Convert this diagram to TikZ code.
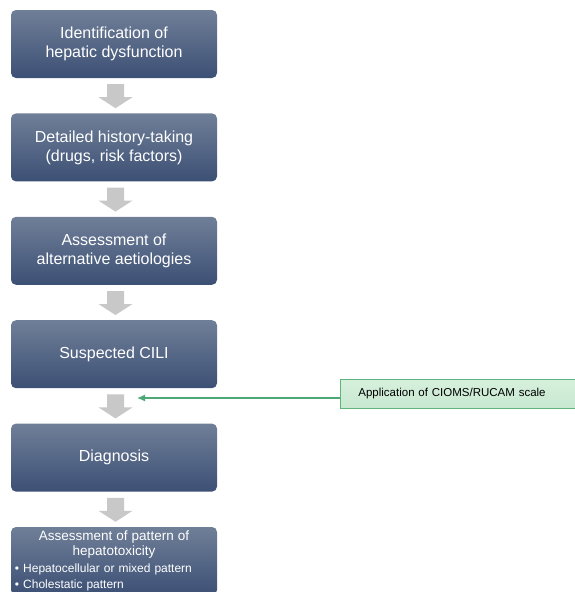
\documentclass[tikz,border=0pt]{standalone}
\usepackage{fontspec}
\setmainfont{Liberation Sans}
\usetikzlibrary{positioning,calc,arrows.meta}

\definecolor{boxtop}{RGB}{112,127,152}
\definecolor{boxbot}{RGB}{60,80,117}
\definecolor{arrowgray}{RGB}{200,200,200}
\definecolor{notefill}{RGB}{200,232,208}
\definecolor{notetop}{RGB}{214,240,220}
\definecolor{noteedge}{RGB}{95,180,125}
\definecolor{noteline}{RGB}{78,168,118}

\tikzset{
  stepbox/.style={rounded corners=5pt, top color=boxtop, bottom color=boxbot,
    draw=none, text=white, align=center, minimum width=206pt, minimum height=68pt,
    inner sep=2pt, font=\fontsize{16}{19}\selectfont},
  grayarrow/.style={fill=arrowgray},
  notebox/.style={top color=notetop, bottom color=notefill, draw=noteedge, line width=0.8pt,
    text=black, align=left, text width=204pt, inner xsep=18pt, minimum height=29pt,
    font=\fontsize{11.5}{13}\selectfont},
  noteline/.style={draw=noteline, line width=1.3pt, -{Latex[length=8pt,width=7pt]}}
}

\begin{document}
\begin{tikzpicture}[x=1pt, y=1pt]
  \useasboundingbox (0,0) rectangle (574,-592);

  % Stappen
  \node[stepbox] (ident) at (114,-44) {Identification of\\hepatic dysfunction};
  \node[stepbox, below=35pt of ident] (history) {Detailed history-taking\\(drugs, risk factors)};
  \node[stepbox, below=35pt of history] (alter) {Assessment of\\alternative aetiologies};
  \node[stepbox, below=35pt of alter] (suspect) {Suspected CILI};
  \node[stepbox, below=35pt of suspect] (diag) {Diagnosis};
  \node[stepbox, below=35pt of diag, align=left, text width=198pt, inner xsep=4pt, inner ysep=3pt,
    font=\fontsize{12}{16}\selectfont] (pattern)
    {\makebox[\linewidth]{\fontsize{13.5}{15}\selectfont Assessment of pattern of}\\[-1pt]
     \makebox[\linewidth]{\fontsize{13.5}{15}\selectfont hepatotoxicity}\\[1pt]
     \textbullet\ Hepatocellular or mixed pattern\\
     \textbullet\ Cholestatic pattern};

  % Grijze pijlen
  \foreach \a/\b in {ident/history, history/alter, alter/suspect, suspect/diag, diag/pattern}
    \fill[grayarrow] ($(\a.south)!0.5!(\b.north)+(1.5,0)$) ++(-8.5,11.5) -- ++(17,0) -- ++(0,-13)
      -- ++(8.5,0) -- ++(-17,-11) -- ++(-17,11) -- ++(8.5,0) -- cycle;

  % Schaal
  \node[notebox, anchor=west] (cioms) at (340,-393.5) {Application of CIOMS/RUCAM scale};
  \coordinate (hit) at (137,-398);
  \draw[noteline] (cioms.west |- hit) -- (hit);
\end{tikzpicture}
\end{document}
